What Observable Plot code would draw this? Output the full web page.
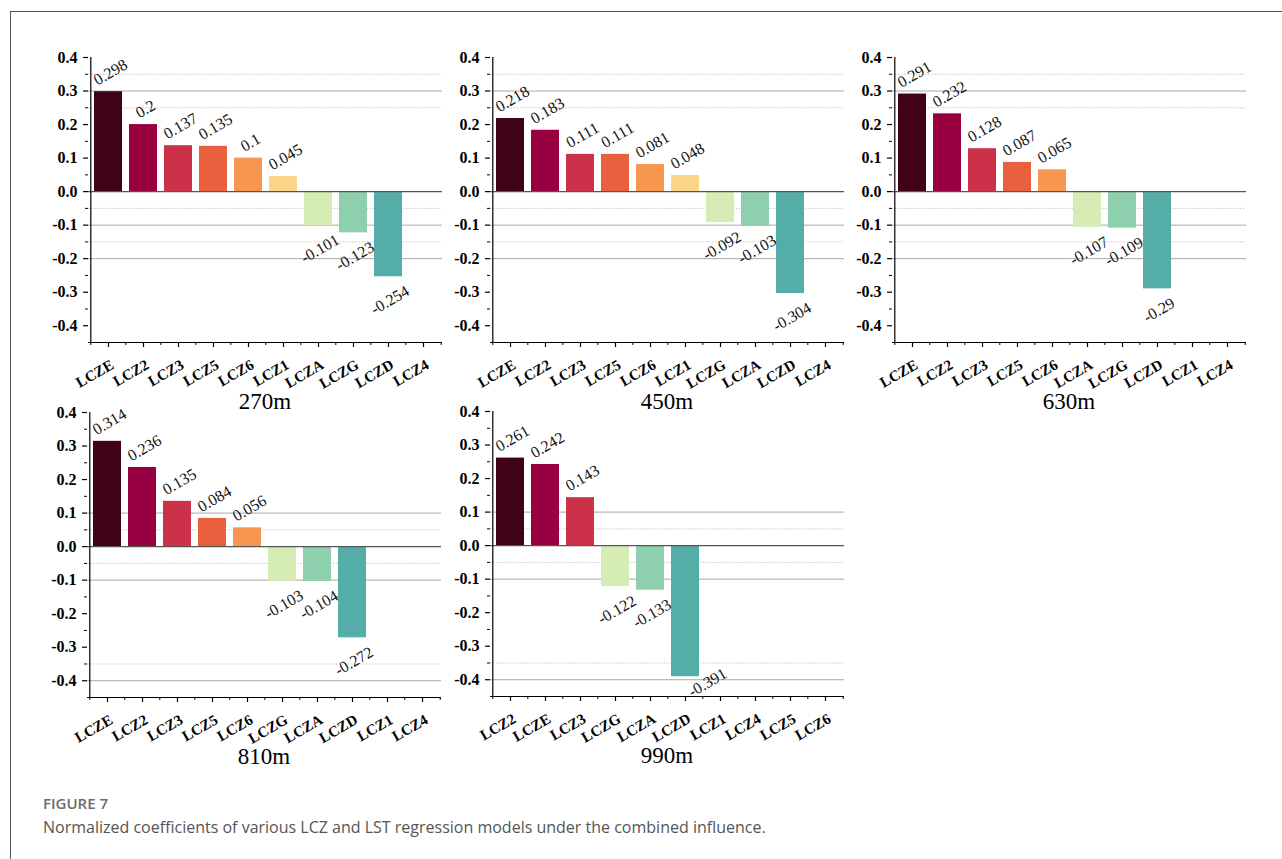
<!DOCTYPE html>
<html>
<head>
<meta charset="utf-8">
<script src="https://cdn.jsdelivr.net/npm/d3@7"></script>
<script src="https://cdn.jsdelivr.net/npm/@observablehq/plot@0.6"></script>
<style>
  html, body { margin: 0; padding: 0; background: #fff; }
  #fig { position: relative; width: 1282px; height: 859px; background: #fff; overflow: hidden; }
  #frame { position: absolute; left: 10px; top: 11px; width: 1272px; height: 848px;
           border-left: 1px solid #555; border-top: 1px solid #555; box-sizing: border-box; }
  .panel { position: absolute; }
  .panel svg { overflow: visible; }
  .panel g[aria-label="y-axis tick label"] text { font-weight: bold; }
  .ptitle { position: absolute; font-family: "Liberation Serif", "Times New Roman", serif;
            font-size: 23px; line-height: 1; color: #000; transform: translateX(-50%); white-space: nowrap; }
  #figlabel { position: absolute; left: 43px; top: 793px; font-family: "Open Sans", "Noto Sans", sans-serif;
              font-size: 15px; font-weight: 600; color: #6b6b6b; }
  #caption { position: absolute; left: 43px; top: 816px; font-family: "Open Sans", "Noto Sans", sans-serif;
             font-size: 16px; color: #555; }
</style>
</head>
<body>
<div id="fig">
  <div id="frame"></div>
  <div id="figlabel">FIGURE 7</div>
  <div id="caption">Normalized coefficients of various LCZ and LST regression models under the combined influence.</div>
</div>
<script>
// Buffer distances (one panel each)
const titles = ["270m", "450m", "630m", "810m", "990m"];

// Category order and normalized coefficients per buffer (null = not retained)
const cats270 = ["LCZE", "LCZ2", "LCZ3", "LCZ5", "LCZ6", "LCZ1", "LCZA", "LCZG", "LCZD", "LCZ4"];
const vals270 = [0.298, 0.2, 0.137, 0.135, 0.1, 0.045, -0.101, -0.123, -0.254, null];

const cats450 = ["LCZE", "LCZ2", "LCZ3", "LCZ5", "LCZ6", "LCZ1", "LCZG", "LCZA", "LCZD", "LCZ4"];
const vals450 = [0.218, 0.183, 0.111, 0.111, 0.081, 0.048, -0.092, -0.103, -0.304, null];

const cats630 = ["LCZE", "LCZ2", "LCZ3", "LCZ5", "LCZ6", "LCZA", "LCZG", "LCZD", "LCZ1", "LCZ4"];
const vals630 = [0.291, 0.232, 0.128, 0.087, 0.065, -0.107, -0.109, -0.29, null, null];

const cats810 = ["LCZE", "LCZ2", "LCZ3", "LCZ5", "LCZ6", "LCZG", "LCZA", "LCZD", "LCZ1", "LCZ4"];
const vals810 = [0.314, 0.236, 0.135, 0.084, 0.056, -0.103, -0.104, -0.272, null, null];

const cats990 = ["LCZ2", "LCZE", "LCZ3", "LCZG", "LCZA", "LCZD", "LCZ1", "LCZ4", "LCZ5", "LCZ6"];
const vals990 = [0.261, 0.242, 0.143, -0.122, -0.133, -0.391, null, null, null, null];

// Axis ticks
const yMajor = [-0.4, -0.3, -0.2, -0.1, 0, 0.1, 0.2, 0.3, 0.4];
const yMinor = [-0.35, -0.25, -0.15, -0.05, 0.05, 0.15, 0.25, 0.35];
const yDomain = [-0.45, 0.4];

// Reference lines shown in each panel
const gridSolidTop = [0.3, -0.1, -0.2];
const gridDotTop = [0.35, 0.25, -0.05, -0.15];
const gridSolidBottom = [0.1, -0.1, -0.4];
const gridDotBottom = [0.05, -0.05, -0.35];

// Positive coefficients take the warm ramp in order, negative ones the cool ramp
const warm = ["#3f0219", "#990042", "#cb3149", "#e9603f", "#f6964f", "#fcd58b"];
const cool = ["#d5ecb4", "#8ecfae", "#55ada7"];

// Layout
const W = 354, H = 285, ML = 50, MR = 12, MT = 16, MB = 50;
const panels = [
  {cats: cats270, vals: vals270, title: titles[0], left: 38,  top: 41,  solid: gridSolidTop,    dot: gridDotTop},
  {cats: cats450, vals: vals450, title: titles[1], left: 440, top: 41,  solid: gridSolidTop,    dot: gridDotTop},
  {cats: cats630, vals: vals630, title: titles[2], left: 842, top: 41,  solid: gridSolidTop,    dot: gridDotTop},
  {cats: cats810, vals: vals810, title: titles[3], left: 37,  top: 396, solid: gridSolidBottom, dot: gridDotBottom},
  {cats: cats990, vals: vals990, title: titles[4], left: 440, top: 395, solid: gridSolidBottom, dot: gridDotBottom}
];

const serif = "'Liberation Serif', 'Times New Roman', serif";
const ctx = document.createElement("canvas").getContext("2d");
ctx.font = "16px 'Liberation Serif'";
const yPix = d3.scaleLinear().domain(yDomain).range([H, 0]);

function drawPanel(p) {
  let ip = 0, ineg = 0;
  const rows = p.cats.map((c, i) => ({cat: c, value: p.vals[i]}))
    .filter(d => d.value != null)
    .map(d => ({...d, label: String(d.value), color: d.value >= 0 ? warm[ip++] : cool[ineg++]}));

  const step = W / (p.cats.length - 0.2 + 0.2);

  // value labels, rotated; offset depends on the label's length
  const labelMarks = rows.map(d => {
    const w = ctx.measureText(d.label).width;
    let dx, dy;
    if (d.value >= 0) { dx = 2; dy = -(10.5 + 0.25 * w); }
    else {
      dx = 1.5; dy = 13 + 0.25 * w;
      if (yPix(d.value) + dy + 0.25 * w + 5 > H) { dx = 22; dy = 6; }
    }
    return Plot.text([d], {x: "cat", y: "value", text: "label", rotate: -30,
      textAnchor: "middle", lineAnchor: "middle", dx, dy, fontSize: 16, fill: "#111"});
  });

  const svg = Plot.plot({
    width: W + ML + MR, height: H + MT + MB,
    marginLeft: ML, marginRight: MR, marginTop: MT, marginBottom: MB,
    style: {fontFamily: serif, fontSize: "16px", background: "transparent", color: "#000"},
    x: {type: "band", domain: p.cats, paddingInner: 0.2, paddingOuter: 0.1, axis: null},
    y: {domain: yDomain},
    color: {type: "identity"},
    marks: [
      Plot.ruleY(p.dot, {stroke: "#c8c8c8", strokeWidth: 1, strokeDasharray: "1.5,1.5"}),
      Plot.ruleY(p.solid, {stroke: "#a8a8a8", strokeWidth: 1}),
      Plot.barY(rows, {x: "cat", y: "value", fill: "color"}),
      Plot.ruleY([0], {stroke: "#555", strokeWidth: 1.3}),
      // y axis: line at the left edge of the first band, major ticks with labels, minor ticks
      Plot.ruleX(p.cats.slice(0, 1), {x: d => d, dx: -step / 2, stroke: "#000", strokeWidth: 1.2}),
      Plot.axisY({ticks: yMajor, label: null, tickSize: 5, tickPadding: 6, tickFormat: d => d.toFixed(1),
                  fontSize: 16, fontWeight: "bold", stroke: "#000", strokeWidth: 1.2}),
      Plot.ruleY(yMinor, {stroke: "#000", strokeWidth: 1, insetLeft: -3, insetRight: W}),
      // x axis: line, major ticks at categories, minor ticks between them
      Plot.ruleY([yDomain[0]], {stroke: "#000", strokeWidth: 1.2}),
      Plot.ruleX(p.cats, {x: d => d, y1: yDomain[0], y2: yDomain[0], insetBottom: -5, stroke: "#000", strokeWidth: 1.2}),
      Plot.ruleX(p.cats, {x: d => d, y1: yDomain[0], y2: yDomain[0], insetBottom: -3, dx: -step / 2, stroke: "#000", strokeWidth: 1}),
      Plot.ruleX(p.cats.slice(-1), {x: d => d, y1: yDomain[0], y2: yDomain[0], insetBottom: -3, dx: step / 2, stroke: "#000", strokeWidth: 1}),
      Plot.text(p.cats, {x: d => d, frameAnchor: "bottom", text: d => d, rotate: -30,
        textAnchor: "end", lineAnchor: "middle", dx: 4, dy: 21, fontSize: 15, fontWeight: "bold", fill: "#000"}),
      ...labelMarks
    ]
  });

  const holder = document.createElement("div");
  holder.className = "panel";
  holder.style.left = p.left + "px";
  holder.style.top = p.top + "px";
  holder.appendChild(svg);
  document.getElementById("fig").appendChild(holder);

  const t = document.createElement("div");
  t.className = "ptitle";
  t.textContent = p.title;
  t.style.left = (p.left + ML + W / 2) + "px";
  t.style.top = (p.top + MT + H + 67 - 19) + "px";
  document.getElementById("fig").appendChild(t);
}

panels.forEach(drawPanel);
</script>
</body>
</html>
